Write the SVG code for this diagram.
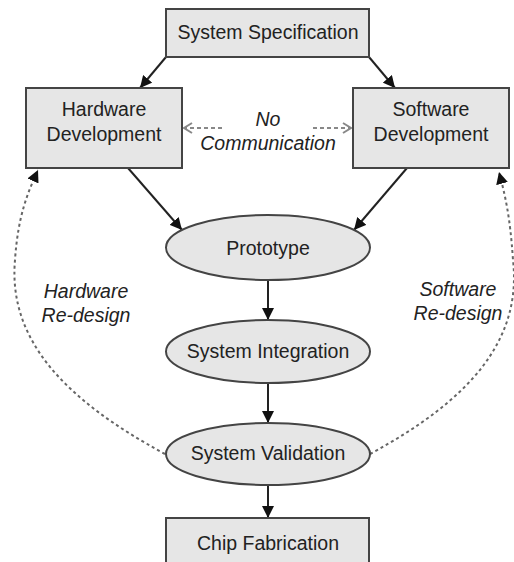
<svg xmlns="http://www.w3.org/2000/svg" width="514" height="562" viewBox="0 0 514 562">
<style>
.box{fill:#e6e6e6;stroke:#444;stroke-width:2}
.t{font-family:"Liberation Sans",Arial,sans-serif;font-size:19.5px;fill:#222;text-anchor:middle}
.i{font-style:italic}
.solid{fill:none;stroke:#222;stroke-width:2}
.dash{fill:none;stroke:#888;stroke-width:2;stroke-dasharray:4 3}
.rd{fill:none;stroke:#666;stroke-width:2;stroke-dasharray:3 3}
</style>
<defs>
<marker id="ah" markerUnits="userSpaceOnUse" markerWidth="12" markerHeight="12" refX="12" refY="6" orient="auto">
<path d="M0,0 L12,6 L0,12 Z" fill="#111"/>
</marker>
<marker id="ahg" markerUnits="userSpaceOnUse" markerWidth="12" markerHeight="12" refX="10" refY="6" orient="auto">
<path d="M2,1 L10,6 L2,11" fill="none" stroke="#888" stroke-width="2"/>
</marker>
</defs>
<g id="connectors">
<path class="solid" d="M166,57 L140,88" marker-end="url(#ah)"/>
<path class="solid" d="M369,57 L395,88" marker-end="url(#ah)"/>
<path class="solid" d="M128,168 L182,230" marker-end="url(#ah)"/>
<path class="solid" d="M407,168 L354,230" marker-end="url(#ah)"/>
<path class="solid" d="M268,280 L268,320" marker-end="url(#ah)"/>
<path class="solid" d="M268,383 L268,423" marker-end="url(#ah)"/>
<path class="solid" d="M268,485 L268,518" marker-end="url(#ah)"/>
<path class="dash" d="M222,128 L184,128" marker-end="url(#ahg)"/>
<path class="dash" d="M313,128 L351,128" marker-end="url(#ahg)"/>
<path class="rd" d="M165,454 C65,400 8,340 15,260 C18,215 28,192 38,170" marker-end="url(#ah)"/>
<path class="rd" d="M370,454 C470,400 522,340 513,260 C510,215 505,195 499,172" marker-end="url(#ah)"/>
</g>
<g id="spec"><rect class="box" x="166" y="9" width="203" height="48"/><text class="t" x="268" y="39">System Specification</text></g>
<g id="hw"><rect class="box" x="26" y="88" width="156" height="80"/><text class="t" x="104" y="116">Hardware</text><text class="t" x="104" y="141">Development</text></g>
<g id="sw"><rect class="box" x="353" y="88" width="156" height="80"/><text class="t" x="431" y="116">Software</text><text class="t" x="431" y="141">Development</text></g>
<g id="nocomm"><text class="t i" x="268" y="126">No</text><text class="t i" x="268" y="150">Communication</text></g>
<g id="proto"><ellipse class="box" cx="268" cy="247.5" rx="102" ry="32.5"/><text class="t" x="268" y="255">Prototype</text></g>
<g id="integ"><ellipse class="box" cx="268" cy="351.5" rx="102" ry="31.5"/><text class="t" x="268" y="358">System Integration</text></g>
<g id="valid"><ellipse class="box" cx="268" cy="454" rx="102" ry="31"/><text class="t" x="268" y="460">System Validation</text></g>
<g id="chip"><rect class="box" x="166" y="518" width="203" height="52"/><text class="t" x="268" y="550">Chip Fabrication</text></g>
<g id="hwre"><text class="t i" x="86" y="298">Hardware</text><text class="t i" x="86" y="322">Re-design</text></g>
<g id="swre"><text class="t i" x="458" y="296">Software</text><text class="t i" x="458" y="320">Re-design</text></g>
</svg>
